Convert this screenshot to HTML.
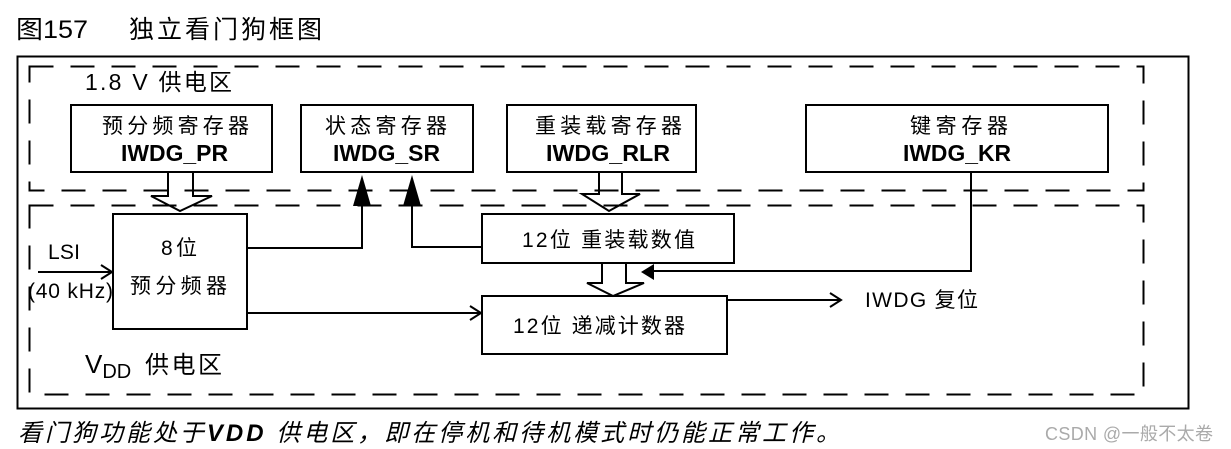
<!DOCTYPE html>
<html><head><meta charset="utf-8"><style>
html,body{margin:0;padding:0;background:#fff;width:1231px;height:449px;overflow:hidden}
svg text{font-family:"Liberation Sans","Noto Sans CJK SC",sans-serif;fill:#000}
</style></head><body>
<svg width="1231" height="449" viewBox="0 0 1231 449" xmlns="http://www.w3.org/2000/svg">
<text x="16" y="38" font-size="25" textLength="72" lengthAdjust="spacingAndGlyphs">图157</text>
<text x="129" y="38" font-size="25" textLength="193" font-family="'Noto Serif CJK SC',serif">独立看门狗框图</text>
<rect x="17.5" y="56.5" width="1171" height="352" fill="none" stroke="#000" stroke-width="2"/>
<g fill="none" stroke="#000" stroke-width="2" stroke-dasharray="24,17">
<rect x="29.5" y="66.5" width="1114" height="124"/>
<rect x="29.5" y="205.5" width="1114" height="189"/>
</g>
<text x="85" y="90" font-size="23" textLength="147">1.8 V 供电区</text>
<g fill="#fff" stroke="#000" stroke-width="2">
<rect x="71" y="105" width="201" height="67"/>
<rect x="301" y="105" width="172" height="67"/>
<rect x="507" y="105" width="189" height="67"/>
<rect x="806" y="105" width="302" height="67"/>
<rect x="113" y="214" width="134" height="115"/>
<rect x="482" y="214" width="252" height="49"/>
<rect x="482" y="296" width="245" height="58"/>
</g>
<g font-size="21">
<text x="102" y="133" textLength="147">预分频寄存器</text>
<text x="121" y="161" font-weight="bold" font-size="23" textLength="107" lengthAdjust="spacingAndGlyphs">IWDG_PR</text>
<text x="325" y="133" textLength="122">状态寄存器</text>
<text x="333" y="161" font-weight="bold" font-size="23" textLength="107" lengthAdjust="spacingAndGlyphs">IWDG_SR</text>
<text x="535" y="133" textLength="147">重装载寄存器</text>
<text x="546" y="161" font-weight="bold" font-size="23" textLength="124" lengthAdjust="spacingAndGlyphs">IWDG_RLR</text>
<text x="910" y="133" textLength="98">键寄存器</text>
<text x="903" y="161" font-weight="bold" font-size="23" textLength="108" lengthAdjust="spacingAndGlyphs">IWDG_KR</text>
<text x="161" y="255" textLength="36">8位</text>
<text x="130" y="293" textLength="97">预分频器</text>
<text x="522" y="247" textLength="173">12位 重装载数值</text>
<text x="513" y="333" textLength="172">12位 递减计数器</text>
</g>
<g fill="none" stroke="#000" stroke-width="2">
<path d="M168 172V196H151L180 211L212 196H193V172"/>
<path d="M599 172V194H582L609 211L640 194H622V172"/>
<path d="M602 263V283H587L613 296L644 283H626V263"/>
<path d="M247 248H362V200"/>
<path d="M482 247H412V200"/>
<path d="M247 313H481M470 306L481 313L470 320"/>
<path d="M971 172V271H652"/>
<path d="M727 300H841M830 293L841 300L830 307"/>
<path d="M38 272H112M101 265L112 272L101 279"/>
</g>
<g fill="#000">
<path d="M362 175L353 206H371Z"/>
<path d="M412 175L403 206H421Z"/>
<path d="M641 272L654 264V280Z"/>
</g>
<text x="48" y="259" font-size="21" textLength="32">LSI</text>
<text x="28" y="298" font-size="21" textLength="85">(40 kHz)</text>
<text x="865" y="307" font-size="21" textLength="113">IWDG 复位</text>
<text x="85" y="373" font-size="26">V<tspan font-size="20" dy="5">DD</tspan></text>
<text x="145" y="373" font-size="24" textLength="77">供电区</text>
<text x="18" y="441" font-size="24" font-style="italic" fill="#111" textLength="822">看门狗功能处于<tspan font-weight="bold">VDD</tspan> 供电区，即在停机和待机模式时仍能正常工作。</text>
<text x="1045" y="440" font-size="18" style="fill:#aaa" textLength="168">CSDN @一般不太卷</text>
</svg>
</body></html>
